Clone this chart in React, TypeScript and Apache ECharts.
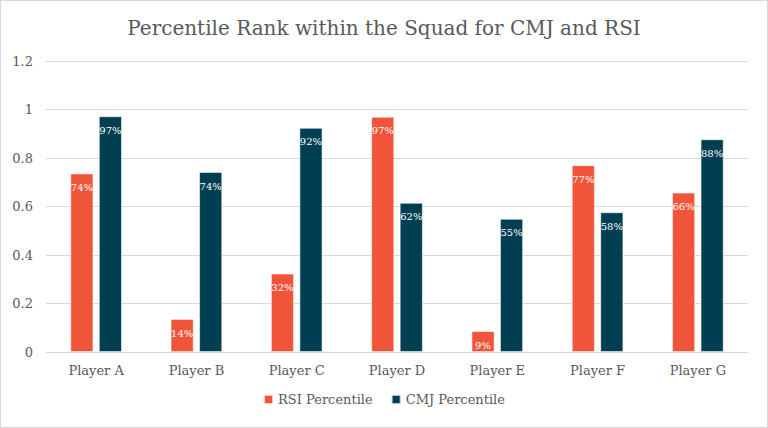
import React, { useEffect, useRef } from "react";
import * as echarts from "echarts";

const categories = ["Player A", "Player B", "Player C", "Player D", "Player E", "Player F", "Player G"];
const rsiValues = [0.736, 0.136, 0.323, 0.97, 0.086, 0.77, 0.657];
const cmjValues = [0.972, 0.742, 0.924, 0.615, 0.549, 0.576, 0.877];
const seriesNames = ["RSI Percentile", "CMJ Percentile"];
const titleText = "Percentile Rank within the Squad for CMJ and RSI";

const FONT = "DejaVu Serif";
const TEXT = "#595959";

export default function App() {
  const ref = useRef<HTMLDivElement>(null);
  useEffect(() => {
    document.body.style.margin = "0";
    const chart = echarts.init(ref.current!, null, { renderer: "svg" });
    const label = {
      show: true,
      position: "insideTop",
      distance: 9,
      color: "#ffffff",
      fontFamily: FONT,
      fontSize: 10,
      formatter: (p: any) => Math.round(p.value * 100) + "%",
    };
    chart.setOption({
      animation: false,
      backgroundColor: "#ffffff",
      textStyle: { fontFamily: FONT },
      title: {
        text: titleText,
        left: "center",
        top: 12,
        textStyle: { fontFamily: FONT, fontSize: 20, fontWeight: "normal", color: TEXT },
      },
      legend: {
        bottom: 16,
        left: "center",
        itemWidth: 9,
        itemHeight: 9,
        itemGap: 18,
        icon: "rect",
        textStyle: { fontFamily: FONT, fontSize: 13, color: TEXT },
        data: seriesNames,
      },
      grid: { left: 45, right: 19, top: 60, bottom: 75 },
      xAxis: {
        type: "category",
        data: categories,
        axisLine: { lineStyle: { color: "#d9d9d9" } },
        axisTick: { show: false },
        axisLabel: { fontFamily: FONT, fontSize: 13, color: TEXT, margin: 12 },
      },
      yAxis: {
        type: "value",
        min: 0,
        max: 1.2,
        interval: 0.2,
        axisLine: { show: false },
        axisTick: { show: false },
        splitLine: { lineStyle: { color: "#d9d9d9" } },
        axisLabel: {
          fontFamily: FONT,
          fontSize: 13,
          color: TEXT,
          margin: 13,
          formatter: (v: number) => String(Math.round(v * 10) / 10),
        },
      },
      series: [
        {
          name: seriesNames[0],
          type: "bar",
          data: rsiValues,
          barWidth: 23,
          barGap: "24%",
          itemStyle: { color: "#F0553A", borderColor: "rgba(255,255,255,0.7)", borderWidth: 0.8 },
          label,
        },
        {
          name: seriesNames[1],
          type: "bar",
          data: cmjValues,
          barWidth: 23,
          itemStyle: { color: "#003F51", borderColor: "rgba(255,255,255,0.7)", borderWidth: 0.8 },
          label,
        },
      ],
    });
    return () => chart.dispose();
  }, []);
  return (
    <div
      ref={ref}
      style={{ width: 768, height: 428, border: "1px solid #d9d9d9", boxSizing: "border-box" }}
    />
  );
}
